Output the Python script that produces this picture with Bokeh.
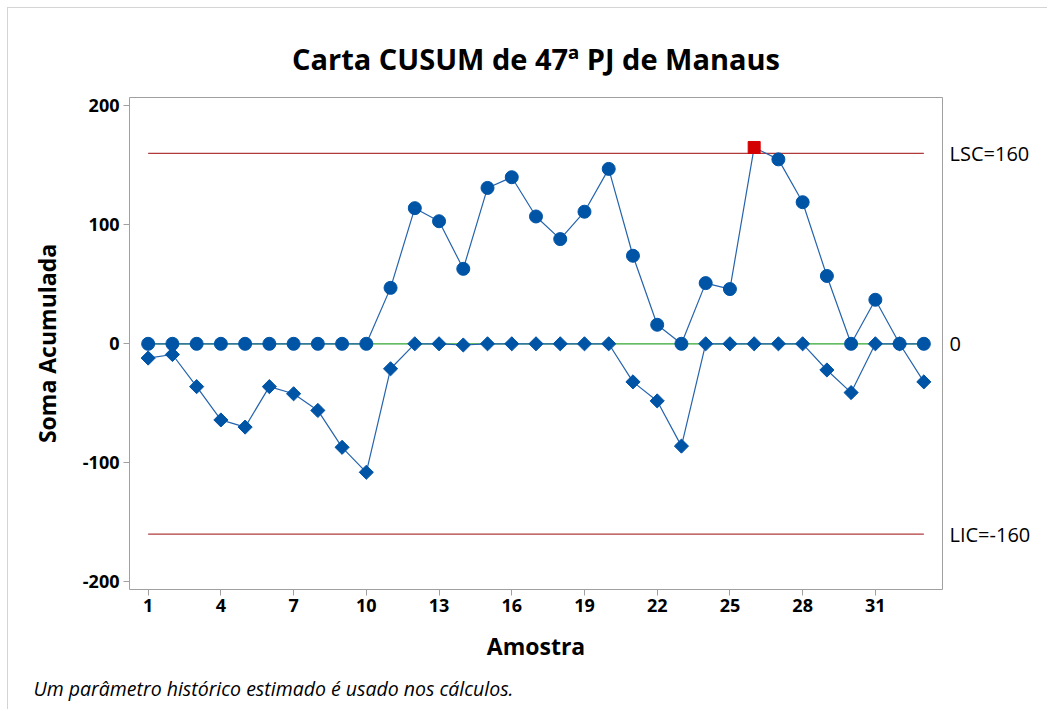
import numpy as np
from bokeh.plotting import figure
from bokeh.models import Range1d, LinearAxis, FixedTicker, Title
from bokeh.embed import file_html
from bokeh.resources import INLINE

# ---- data ----
samples = list(range(1, 34))
upper_cusum = [0, 0, 0, 0, 0, 0, 0, 0, 0, 0,
               47, 114, 103, 63, 131, 140, 107, 88, 111, 147,
               74, 16, 0, 51, 46, 165, 155, 119, 57, 0,
               37, 0, 0]
lower_cusum = [-12, -9, -36, -64, -70, -36, -42, -56, -87, -108,
               -21, 0, 0, -1, 0, 0, 0, 0, 0, 0,
               -32, -48, -86, 0, 0, 0, 0, 0, -22, -41,
               0, 0, -32]
lsc = 160
lic = -160
center = 0
x_ticks = [1, 4, 7, 10, 13, 16, 19, 22, 25, 28, 31]
y_ticks = [-200, -100, 0, 100, 200]
title_text = "Carta CUSUM de 47ª PJ de Manaus"
x_label = "Amostra"
y_label = "Soma Acumulada"
footnote = "Um parâmetro histórico estimado é usado nos cálculos."

FONT = "Open Sans"
BLUE = "#0054A6"
LINE_BLUE = "#2563ad"
RED_LINE = "#b03a3a"
GREEN = "#33a532"
GRAY = "#a0a0a0"

p = figure(width=1040, height=702, output_backend="svg", toolbar_location=None,
           x_range=Range1d(0.23, 33.77), y_range=Range1d(-206.5, 207),
           min_border_left=121, min_border_right=106, min_border_top=0, min_border_bottom=118,
           styles={"border-left": "1px solid #d4d4d4", "border-top": "1px solid #d4d4d4",
                   "margin-left": "7px", "margin-top": "7px"})
p.title = None
p.background_fill_color = "white"
p.border_fill_color = "white"
p.outline_line_color = GRAY
p.outline_line_width = 1
p.xgrid.visible = False
p.ygrid.visible = False

# title (first = nearest the frame) and a spacer above it
main_title = Title(text=title_text, text_font=FONT, text_font_size="29px",
                   text_font_style="bold", text_color="black", align="center",
                   standoff=40, offset=-16)
p.add_layout(main_title, "above")
p.add_layout(Title(text=" ", text_font=FONT, text_font_size="1px", standoff=5), "above")

# axes
for ax in (p.xaxis[0], p.yaxis[0]):
    ax.axis_line_color = None
    ax.major_tick_line_color = GRAY
    ax.major_tick_out = 6
    ax.major_tick_in = 0
    ax.minor_tick_line_color = None
    ax.major_label_text_font = FONT
    ax.major_label_text_font_size = "18px"
    ax.major_label_text_font_style = "bold"
    ax.major_label_text_color = "black"
    ax.axis_label_text_font = FONT
    ax.axis_label_text_font_size = "23px"
    ax.axis_label_text_font_style = "bold"
    ax.axis_label_text_color = "black"

p.xaxis[0].ticker = FixedTicker(ticks=x_ticks)
p.yaxis[0].ticker = FixedTicker(ticks=y_ticks)
p.yaxis[0].major_label_overrides = {t: str(t) for t in y_ticks}
p.xaxis[0].axis_label = x_label
p.yaxis[0].axis_label = y_label
p.xaxis[0].major_label_standoff = 3
p.xaxis[0].axis_label_standoff = 15
p.yaxis[0].major_label_standoff = 4
p.yaxis[0].axis_label_standoff = 17

# right axis with limit labels
right_ticks = [lic, center, lsc]
right_labels = {lsc: f"LSC={lsc}", center: f"{center}", lic: f"LIC={lic}"}
rax = LinearAxis(ticker=FixedTicker(ticks=right_ticks), major_label_overrides=right_labels)
rax.axis_line_color = None
rax.major_tick_line_color = None
rax.major_tick_out = 0
rax.major_tick_in = 0
rax.minor_tick_line_color = None
rax.major_label_standoff = 7
rax.major_label_text_font = FONT
rax.major_label_text_font_size = "20px"
rax.major_label_text_color = "black"
p.add_layout(rax, "right")

# footnote
p.add_layout(Title(text=footnote, text_font=FONT, text_font_size="19.5px",
                   text_font_style="italic", text_color="black", align="left",
                   offset=-96, standoff=17), "below")

# reference lines
xs = [samples[0], samples[-1]]
p.line(xs, [center, center], line_color=GREEN, line_width=1.2)
p.line(xs, [lsc, lsc], line_color=RED_LINE, line_width=1.2)
p.line(xs, [lic, lic], line_color=RED_LINE, line_width=1.2)

# series lines
p.line(samples, upper_cusum, line_color=LINE_BLUE, line_width=1.2)
p.line(samples, lower_cusum, line_color=LINE_BLUE, line_width=1.2)

up = np.array(upper_cusum)
lo = np.array(lower_cusum)
xarr = np.array(samples)
ooc_up = up > lsc
ooc_lo = lo < lic

p.scatter(xarr[~ooc_lo], lo[~ooc_lo], marker="square", angle=np.pi / 4, size=10,
          fill_color=BLUE, line_color=BLUE)
p.scatter(xarr[~ooc_up], up[~ooc_up], marker="circle", size=13,
          fill_color=BLUE, line_color=BLUE)
p.scatter(xarr[ooc_up], up[ooc_up], marker="square", size=12,
          fill_color="#d40000", line_color="#d40000")
p.scatter(xarr[ooc_lo], lo[ooc_lo], marker="square", size=12,
          fill_color="#d40000", line_color="#d40000")

open("out.html", "w").write(file_html(p, INLINE))
